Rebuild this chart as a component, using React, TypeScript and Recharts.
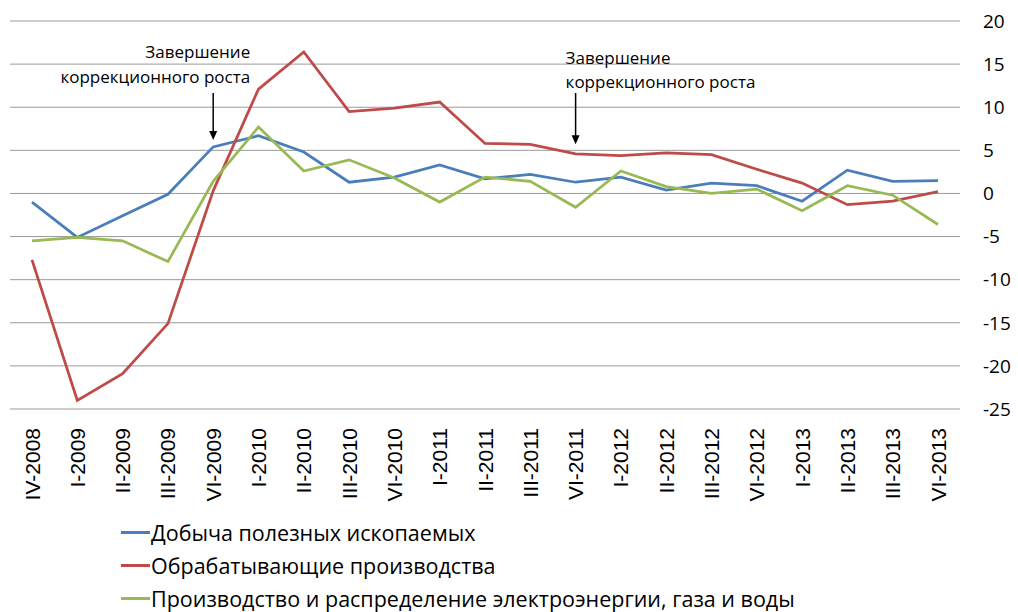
import React from "react";
import { LineChart, Line, XAxis, YAxis, CartesianGrid, ReferenceLine } from "recharts";

const categories = [
  "IV-2008", "I-2009", "II-2009", "III-2009", "VI-2009", "I-2010", "II-2010",
  "III-2010", "VI-2010", "I-2011", "II-2011", "III-2011", "VI-2011", "I-2012",
  "II-2012", "III-2012", "VI-2012", "I-2013", "II-2013", "III-2013", "VI-2013",
];

const mining = [-1.0, -5.1, -2.6, -0.1, 5.4, 6.7, 4.8, 1.3, 1.9, 3.3, 1.7, 2.2, 1.3, 1.9, 0.4, 1.2, 0.9, -0.9, 2.7, 1.4, 1.5];
const manufacturing = [-7.7, -24.0, -20.9, -15.1, 0.3, 12.1, 16.4, 9.5, 9.9, 10.6, 5.8, 5.7, 4.6, 4.4, 4.7, 4.5, 2.8, 1.2, -1.3, -0.9, 0.2];
const utilities = [-5.5, -5.1, -5.5, -7.9, 1.4, 7.7, 2.6, 3.9, 1.8, -1.0, 1.9, 1.4, -1.6, 2.6, 0.8, 0.0, 0.5, -2.0, 0.9, -0.2, -3.6];

const yTicks = [-25, -20, -15, -10, -5, 0, 5, 10, 15, 20];

const seriesNames = [
  "Добыча полезных ископаемых",
  "Обрабатывающие производства",
  "Производство и распределение электроэнергии, газа и воды",
];
const seriesColors = ["#4A7EBB", "#BE4B48", "#98B954"];

const annotationText = ["Завершение", "коррекционного роста"];

const data = categories.map((c, i) => ({
  period: c,
  mining: mining[i],
  manufacturing: manufacturing[i],
  utilities: utilities[i],
}));

const FONT = "'Open Sans', 'DejaVu Sans', sans-serif";

function XTick(props: any) {
  const { x, y, payload } = props;
  return (
    <text
      x={x}
      y={y}
      transform={`rotate(-90, ${x}, ${y})`}
      textAnchor="end"
      dy="0.36em"
      fontSize={21}
      fontFamily="'Liberation Sans', Arial, sans-serif"
      fill="#000"
    >
      {payload.value}
    </text>
  );
}

// arrow + two-line caption; align tells which side of the arrow the text hangs on
function arrowShape(align: "right" | "left") {
  return (props: any) => {
    const { x1, y1, y2 } = props;
    const tx = align === "right" ? x1 + 37 : x1 - 10;
    const anchor = align === "right" ? "end" : "start";
    const l1 = align === "right" ? y1 - 41 : y1 - 35;
    const l2 = align === "right" ? y1 - 16 : y1 - 11;
    return (
      <g>
        <line x1={x1} y1={y1} x2={x1} y2={y2 - 8} stroke="#000" strokeWidth={1.5} />
        <polygon points={`${x1 - 4},${y2 - 9} ${x1 + 4},${y2 - 9} ${x1},${y2}`} fill="#000" />
        <text x={tx} y={l1} dy="0.35em" textAnchor={anchor} fontSize={17} fontFamily={FONT} fill="#000">
          {annotationText[0]}
        </text>
        <text x={tx} y={l2} dy="0.35em" textAnchor={anchor} fontSize={17} fontFamily={FONT} fill="#000">
          {annotationText[1]}
        </text>
      </g>
    );
  };
}

export default function App() {
  return (
    <div style={{ position: "absolute", left: 0, top: 0, width: 1018, height: 612, background: "#fff" }}>
      <LineChart width={1018} height={612} data={data} margin={{ top: 21, right: 0, left: 10, bottom: 103 }}>
        <CartesianGrid vertical={false} stroke="#9a9a9a" strokeWidth={1} />
        <XAxis
          dataKey="period"
          interval={0}
          axisLine={false}
          tickLine={false}
          tickSize={0}
          tickMargin={19}
          height={100}
          padding={{ left: 22, right: 22 }}
          tick={<XTick />}
        />
        <YAxis
          orientation="right"
          domain={[-25, 20]}
          ticks={yTicks}
          interval={0}
          width={58}
          axisLine={false}
          tickLine={false}
          tickSize={0}
          tickMargin={23}
          tick={{ fontSize: 19, fontFamily: FONT, fill: "#000" }}
        />
        <Line dataKey="mining" stroke={seriesColors[0]} strokeWidth={2.75} dot={false} isAnimationActive={false} />
        <Line dataKey="manufacturing" stroke={seriesColors[1]} strokeWidth={2.75} dot={false} isAnimationActive={false} />
        <Line dataKey="utilities" stroke={seriesColors[2]} strokeWidth={2.75} dot={false} isAnimationActive={false} />
        <ReferenceLine
          segment={[{ x: "VI-2009", y: 11.65 }, { x: "VI-2009", y: 6.2 }]}
          shape={arrowShape("right")}
        />
        <ReferenceLine
          segment={[{ x: "VI-2011", y: 11.65 }, { x: "VI-2011", y: 5.7 }]}
          shape={arrowShape("left")}
        />
      </LineChart>
      <div style={{ position: "absolute", left: 121, top: 516, fontFamily: FONT, fontSize: 21.5, color: "#000" }}>
        {seriesNames.map((n, i) => (
          <div key={n} style={{ display: "flex", alignItems: "center", height: 33, whiteSpace: "nowrap" }}>
            <span style={{ display: "inline-block", width: 29, height: 3, background: seriesColors[i], marginRight: 1 }} />
            <span>{n}</span>
          </div>
        ))}
      </div>
    </div>
  );
}
